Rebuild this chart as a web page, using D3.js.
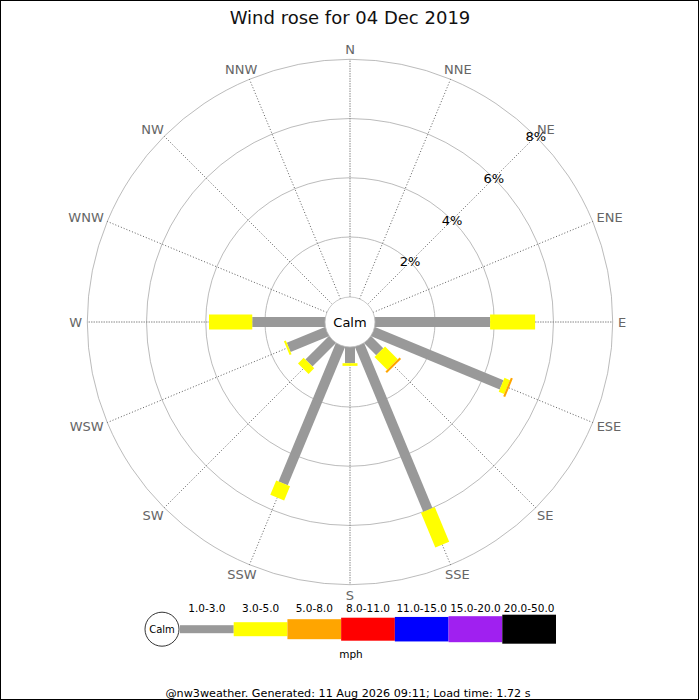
<!DOCTYPE html>
<html lang="en">
<head>
    <meta charset="UTF-8">
    <title>Wind rose for 04 Dec 2019</title>
    <script src="https://d3js.org/d3.v7.min.js"></script>
    <style>
        body { margin: 0; background: #fff; font-family: "DejaVu Sans", sans-serif; }
        svg { display: block; }
    </style>
</head>
<body>
    <svg width="700" height="700"></svg>

    <script>
        // directions, clockwise from north
        const directions = ["N", "NNE", "NE", "ENE", "E", "ESE", "SE", "SSE",
                            "S", "SSW", "SW", "WSW", "W", "WNW", "NW", "NNW"];
        const speedBins = ["1.0-3.0", "3.0-5.0", "5.0-8.0", "8.0-11.0", "11.0-15.0", "15.0-20.0", "20.0-50.0"];
        const binColors = ["#999999", "#ffff00", "#ffa500", "#ff0000", "#0000ff", "#a020f0", "#000000"];
        // percentage of time per direction for each speed bin (mph)
        const pct1to3   = [0, 0, 0, 0, 3.86, 4.67, 0.55, 6.00, 0.52, 5.03, 1.09, 1.37, 2.43, 0, 0, 0];
        const pct3to5   = [0, 0, 0, 0, 1.52, 0.20, 0.61, 1.27, 0.09, 0.52, 0.27, 0.07, 1.46, 0, 0, 0];
        const pct5to8   = [0, 0, 0, 0, 0, 0.07, 0.07, 0, 0, 0, 0, 0, 0, 0, 0, 0];
        const pct8to11  = [0, 0, 0, 0, 0, 0, 0, 0, 0, 0, 0, 0, 0, 0, 0, 0];
        const pct11to15 = [0, 0, 0, 0, 0, 0, 0, 0, 0, 0, 0, 0, 0, 0, 0, 0];
        const pct15to20 = [0, 0, 0, 0, 0, 0, 0, 0, 0, 0, 0, 0, 0, 0, 0, 0];
        const pct20to50 = [0, 0, 0, 0, 0, 0, 0, 0, 0, 0, 0, 0, 0, 0, 0, 0];
        const ringTicks = [2, 4, 6, 8];

        const series = [pct1to3, pct3to5, pct5to8, pct8to11, pct11to15, pct15to20, pct20to50];

        const svg = d3.select("svg");
        const width = +svg.attr("width");
        const height = +svg.attr("height");
        const cx = 350, cy = 322;
        const calmR = 25;

        const r = d3.scaleLinear().domain([0, 8]).range([25.8, 262.7]);
        const ang = d3.scaleLinear().domain([0, 16]).range([0, 2 * Math.PI]);
        const barWidth = d3.scaleOrdinal().domain(speedBins).range([10, 15, 20, 23, 24.5, 26, 29]);
        const legendWidth = d3.scaleOrdinal().domain(speedBins).range([8, 14, 20, 23, 24.5, 26, 29]);

        const px = (i, v) => cx + Math.sin(ang(i)) * v;
        const py = (i, v) => cy - Math.cos(ang(i)) * v;

        svg.append("rect")
            .attr("x", 0.5).attr("y", 0.5)
            .attr("width", width - 2).attr("height", height - 1)
            .attr("fill", "#fff").attr("stroke", "#000");

        svg.append("text")
            .attr("x", cx).attr("y", 24)
            .attr("text-anchor", "middle")
            .attr("font-size", 18)
            .attr("fill", "#111")
            .text("Wind rose for 04 Dec 2019");

        const g = svg.append("g");

        // rings
        g.selectAll("circle.ring")
            .data(ringTicks)
            .enter().append("circle")
            .attr("class", "ring")
            .attr("cx", cx).attr("cy", cy)
            .attr("r", d => r(d))
            .attr("fill", "none")
            .attr("stroke", "#aaa")
            .attr("stroke-width", 0.8);

        // spokes
        g.selectAll("line.spoke")
            .data(directions)
            .enter().append("line")
            .attr("class", "spoke")
            .attr("x1", (d, i) => px(i, calmR)).attr("y1", (d, i) => py(i, calmR))
            .attr("x2", (d, i) => px(i, r(8))).attr("y2", (d, i) => py(i, r(8)))
            .attr("stroke", (d, i) => i % 4 === 0 ? "#888" : "#333")
            .attr("stroke-width", (d, i) => i % 4 === 0 ? 1 : 0.8)
            .attr("stroke-dasharray", (d, i) => i % 4 === 0 ? "1.5,1" : "1,2");

        // direction labels, pushed out so the text box clears the outer ring
        g.selectAll("text.dir")
            .data(directions)
            .enter().append("text")
            .attr("class", "dir")
            .attr("text-anchor", "middle")
            .attr("dy", "0.35em")
            .attr("font-size", 13)
            .attr("fill", "#666")
            .text(d => d)
            .each(function (d, i) {
                const w = this.getComputedTextLength();
                const ux = Math.sin(ang(i)), uy = -Math.cos(ang(i));
                d3.select(this)
                    .attr("x", cx + 268 * ux + (w / 2) * ux)
                    .attr("y", cy + 268 * uy + 5 * uy);
            });

        // stacked bars per direction
        series.forEach((vals, b) => {
            const prev = series.slice(0, b);
            vals.forEach((v, i) => {
                if (v <= 0) return;
                const start = d3.sum(prev, s => s[i]);
                const r0 = b === 0 ? calmR - 2 : r(start);
                const r1 = r(start + v);
                g.append("line")
                    .attr("x1", px(i, r0)).attr("y1", py(i, r0))
                    .attr("x2", px(i, r1)).attr("y2", py(i, r1))
                    .attr("stroke", binColors[b])
                    .attr("stroke-width", barWidth(speedBins[b]))
                    .attr("stroke-linecap", "butt");
            });
        });

        // calm circle
        g.append("circle")
            .attr("cx", cx).attr("cy", cy).attr("r", calmR)
            .attr("fill", "#fff")
            .attr("stroke", "#bbb")
            .attr("stroke-width", 0.8);
        g.append("text")
            .attr("x", cx).attr("y", cy)
            .attr("dy", "0.35em")
            .attr("text-anchor", "middle")
            .attr("font-size", 13)
            .text("Calm");

        // percentage labels along NE
        g.selectAll("text.pct")
            .data(ringTicks)
            .enter().append("text")
            .attr("class", "pct")
            .attr("x", d => px(2, r(d)))
            .attr("y", d => py(2, r(d)))
            .attr("dy", "0.35em")
            .attr("text-anchor", "middle")
            .attr("font-size", 13)
            .attr("fill", "#000")
            .text(d => d + "%");

        // legend
        const lx = d3.scaleBand().domain(speedBins).range([180, 556]);
        const ly = 629.2;
        const leg = svg.append("g");
        leg.selectAll("rect")
            .data(speedBins)
            .enter().append("rect")
            .attr("x", d => lx(d))
            .attr("y", d => ly - legendWidth(d) / 2)
            .attr("width", lx.bandwidth())
            .attr("height", d => legendWidth(d))
            .attr("fill", (d, i) => binColors[i]);
        leg.selectAll("text.bin")
            .data(speedBins)
            .enter().append("text")
            .attr("class", "bin")
            .attr("x", d => lx(d) + lx.bandwidth() / 2)
            .attr("y", 611.5)
            .attr("text-anchor", "middle")
            .attr("font-size", 10.5)
            .text(d => d);
        leg.append("circle")
            .attr("cx", 162).attr("cy", ly).attr("r", 17)
            .attr("fill", "#fff").attr("stroke", "#000").attr("stroke-width", 0.8);
        leg.append("text")
            .attr("x", 162).attr("y", ly).attr("dy", "0.35em")
            .attr("text-anchor", "middle")
            .attr("font-size", 10)
            .text("Calm");
        leg.append("text")
            .attr("x", 351).attr("y", 658)
            .attr("text-anchor", "middle")
            .attr("font-size", 10.5)
            .text("mph");

        svg.append("text")
            .attr("x", 348).attr("y", 697)
            .attr("text-anchor", "middle")
            .attr("font-size", 11.2)
            .text("@nw3weather. Generated: 11 Aug 2026 09:11; Load time: 1.72 s");
    </script>
</body>
</html>
